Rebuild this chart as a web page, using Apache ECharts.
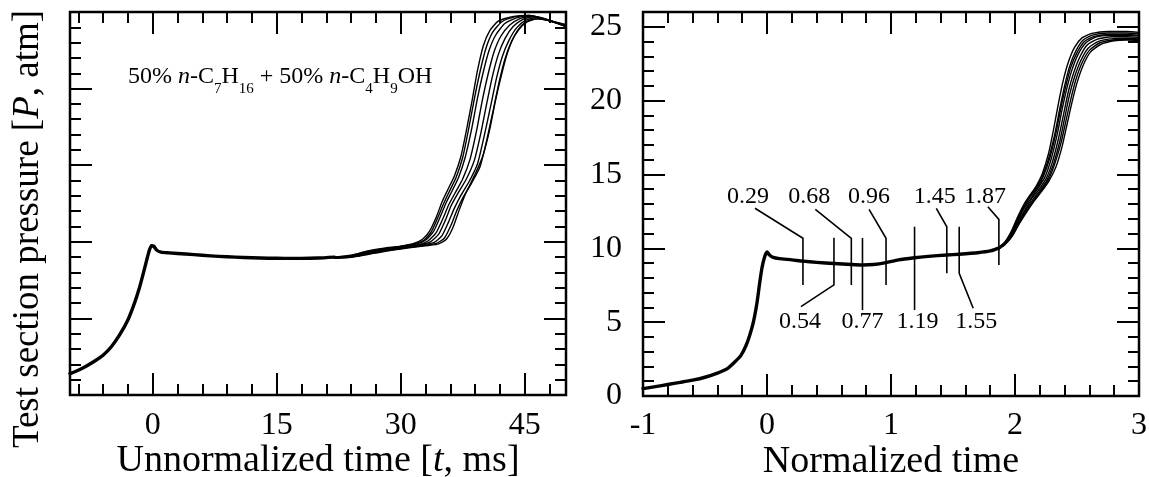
<!DOCTYPE html>
<html>
<head>
<meta charset="utf-8">
<script src="https://cdn.jsdelivr.net/npm/echarts@6/dist/echarts.min.js"></script>
<style>
  html, body { margin: 0; padding: 0; background: #fff; }
  #chart { width: 1149px; height: 477px; }
</style>
</head>
<body>
<div id="chart"></div>
<script>
// ---------- data: unnormalized time (ms) vs. test section pressure (atm) ----------
// shared part of all runs up to 22 ms (drawn as one heavy bundle)
const timeBase = [
  [-10.0, 1.40], [-9.0, 1.62], [-8.0, 1.90], [-7.0, 2.22], [-6.0, 2.60], [-5.0, 3.15],
  [-4.0, 3.92], [-3.0, 4.90], [-2.2, 6.00], [-1.6, 7.00], [-1.1, 8.00], [-0.7, 8.85],
  [-0.4, 9.45], [-0.15, 9.75], [0.15, 9.70], [0.5, 9.45], [1.0, 9.33], [2.0, 9.28],
  [4.0, 9.20], [6.0, 9.12], [8.0, 9.05], [10.0, 9.00], [12.0, 8.96], [14.0, 8.93],
  [16.0, 8.92], [18.0, 8.92], [20.0, 8.94], [22.0, 9.00]
];
// individual runs after 22 ms
const timeRunA = [[22,9.00],[24,9.12],[26,9.40],[28,9.58],[30,9.72],[31.5,9.88],[32.6,10.15],[33.5,10.70],[34.3,11.60],[35.0,12.60],[35.7,13.40],[36.5,14.30],[37.3,15.60],[38.0,17.40],[38.7,19.40],[39.3,21.20],[40.0,22.80],[40.8,23.80],[41.8,24.40],[43.5,24.70],[45.5,24.78],[47.5,24.55],[50.0,24.05]];
const timeRunB = [[22,9.00],[24,9.10],[26,9.37],[28,9.55],[30,9.70],[31.5,9.85],[32.8,10.10],[33.7,10.65],[34.5,11.60],[35.2,12.50],[35.9,13.30],[36.7,14.20],[37.5,15.50],[38.2,17.30],[38.9,19.30],[39.6,21.10],[40.3,22.60],[41.1,23.65],[42.2,24.35],[43.8,24.68],[45.5,24.78],[47.5,24.55],[50.0,24.05]];
const timeRunC = [[22,8.98],[24,9.08],[26,9.33],[28,9.52],[30,9.68],[31.8,9.84],[33.0,10.10],[34.0,10.70],[34.8,11.65],[35.5,12.55],[36.2,13.30],[37.0,14.20],[37.8,15.50],[38.6,17.40],[39.3,19.40],[40.0,21.10],[40.7,22.50],[41.5,23.50],[42.6,24.25],[44.0,24.62],[45.6,24.75],[47.5,24.52],[50.0,24.05]];
const timeRunD = [[22,8.97],[24,9.06],[26,9.30],[28,9.50],[30,9.66],[32,9.80],[33.3,10.05],[34.3,10.60],[35.1,11.50],[35.8,12.40],[36.6,13.20],[37.5,14.10],[38.4,15.40],[39.2,17.30],[39.9,19.30],[40.6,21.00],[41.3,22.40],[42.1,23.40],[43.2,24.15],[44.5,24.58],[45.8,24.72],[47.5,24.50],[50.0,24.08]];
const timeRunE = [[22,8.96],[24,9.04],[26,9.27],[28,9.47],[30,9.63],[32,9.77],[33.6,10.00],[34.6,10.50],[35.4,11.40],[36.1,12.35],[36.9,13.15],[37.9,14.05],[38.9,15.30],[39.7,17.10],[40.4,19.00],[41.1,20.80],[41.8,22.20],[42.6,23.25],[43.6,24.05],[44.8,24.52],[46.0,24.68],[47.8,24.48],[50.0,24.10]];
const timeRunF = [[22,8.95],[24,9.02],[26,9.24],[28,9.44],[30,9.60],[32,9.74],[34.0,9.95],[35.0,10.40],[35.8,11.30],[36.5,12.20],[37.3,13.05],[38.3,13.95],[39.3,15.10],[40.1,16.90],[40.9,18.90],[41.6,20.70],[42.3,22.10],[43.1,23.15],[44.0,23.95],[45.1,24.45],[46.3,24.62],[48.0,24.45],[50.0,24.12]];
const timeRunG = [[22,8.94],[24,9.00],[26,9.20],[28,9.40],[30,9.56],[32,9.70],[34.3,9.90],[35.3,10.25],[36.1,11.10],[36.8,12.05],[37.6,12.95],[38.6,13.85],[39.6,14.90],[40.4,16.60],[41.2,18.60],[41.9,20.40],[42.6,21.90],[43.4,23.05],[44.3,23.85],[45.3,24.35],[46.5,24.55],[48.0,24.42],[50.0,24.15]];
const timeRunH = [[22,8.93],[24,8.98],[26,9.17],[28,9.37],[30,9.53],[32,9.68],[34.5,9.85],[35.5,10.15],[36.3,10.90],[37.1,12.10],[37.9,13.20],[39.0,14.40],[40.0,15.70],[40.8,17.40],[41.5,19.30],[42.2,20.90],[42.9,22.30],[43.7,23.40],[44.6,24.10],[45.5,24.45],[46.8,24.55],[48.2,24.40],[50.0,24.18]];

// ---------- data: normalized time vs. pressure ----------
const normBase = [
  [-1.00, 0.50], [-0.90, 0.63], [-0.80, 0.78], [-0.70, 0.92], [-0.60, 1.07], [-0.50, 1.27],
  [-0.40, 1.55], [-0.32, 1.85], [-0.26, 2.30], [-0.21, 2.75], [-0.17, 3.40], [-0.14, 4.10],
  [-0.11, 5.00], [-0.08, 6.35], [-0.06, 7.60], [-0.04, 8.70], [-0.02, 9.40], [0.00, 9.75],
  [0.02, 9.55], [0.05, 9.38], [0.10, 9.30], [0.20, 9.22], [0.29, 9.13], [0.40, 9.05],
  [0.54, 8.97], [0.68, 8.90], [0.77, 8.87], [0.86, 8.90], [0.96, 9.03], [1.06, 9.22],
  [1.19, 9.36], [1.30, 9.45], [1.45, 9.55], [1.55, 9.60], [1.70, 9.70], [1.80, 9.82], [1.87, 10.02]
];
const normRunA = [[1.87,10.08],[1.92,10.45],[1.97,11.15],[2.02,12.10],[2.07,12.95],[2.12,13.60],[2.17,14.20],[2.22,15.05],[2.27,16.40],[2.31,18.00],[2.35,19.80],[2.39,21.40],[2.43,22.60],[2.48,23.60],[2.54,24.25],[2.62,24.55],[2.75,24.68],[2.90,24.68],[3.00,24.62]];
const normRunB = [[1.87,10.05],[1.92,10.40],[1.97,11.05],[2.02,11.95],[2.07,12.80],[2.12,13.50],[2.17,14.10],[2.22,14.85],[2.27,16.05],[2.32,17.70],[2.36,19.40],[2.40,21.00],[2.44,22.30],[2.49,23.35],[2.55,24.10],[2.63,24.45],[2.75,24.58],[2.90,24.58],[3.00,24.52]];
const normRunC = [[1.87,10.03],[1.92,10.38],[1.97,11.00],[2.02,11.90],[2.07,12.75],[2.12,13.45],[2.18,14.10],[2.23,14.90],[2.28,16.10],[2.33,17.80],[2.37,19.50],[2.41,21.00],[2.45,22.25],[2.50,23.25],[2.56,24.00],[2.64,24.35],[2.76,24.48],[2.90,24.48],[3.00,24.42]];
const normRunD = [[1.87,10.02],[1.92,10.35],[1.97,10.95],[2.02,11.80],[2.07,12.65],[2.13,13.40],[2.18,14.00],[2.24,14.80],[2.29,16.00],[2.34,17.70],[2.38,19.40],[2.42,20.90],[2.46,22.10],[2.51,23.15],[2.57,23.90],[2.65,24.30],[2.77,24.42],[2.90,24.42],[3.00,24.38]];
const normRunE = [[1.87,10.00],[1.92,10.32],[1.97,10.90],[2.02,11.70],[2.08,12.60],[2.13,13.30],[2.19,13.95],[2.25,14.70],[2.30,15.80],[2.35,17.40],[2.39,19.00],[2.43,20.60],[2.47,21.80],[2.52,22.90],[2.58,23.75],[2.66,24.15],[2.78,24.32],[2.90,24.32],[3.00,24.28]];
const normRunF = [[1.87,9.98],[1.92,10.30],[1.97,10.85],[2.03,11.70],[2.08,12.50],[2.14,13.25],[2.20,13.90],[2.26,14.65],[2.31,15.70],[2.36,17.20],[2.40,18.80],[2.44,20.40],[2.48,21.60],[2.53,22.70],[2.59,23.55],[2.67,24.00],[2.79,24.20],[2.90,24.22],[3.00,24.18]];
const normRunG = [[1.87,9.97],[1.92,10.28],[1.98,10.90],[2.03,11.65],[2.09,12.50],[2.15,13.25],[2.21,13.90],[2.27,14.65],[2.32,15.70],[2.37,17.10],[2.41,18.60],[2.45,20.10],[2.49,21.40],[2.54,22.55],[2.60,23.40],[2.68,23.90],[2.80,24.12],[2.90,24.15],[3.00,24.12]];
const normRunH = [[1.87,9.95],[1.92,10.25],[1.98,10.85],[2.03,11.60],[2.09,12.40],[2.15,13.15],[2.21,13.80],[2.27,14.50],[2.33,15.50],[2.38,16.90],[2.42,18.40],[2.46,19.90],[2.50,21.20],[2.55,22.40],[2.61,23.30],[2.69,23.80],[2.80,24.05],[2.90,24.10],[3.00,24.08]];

// sampling instants marked on the normalized trace
const markerTimes = [0.29, 0.54, 0.68, 0.77, 0.96, 1.19, 1.45, 1.55, 1.87];

// ---------- axis ticks and labels ----------
const timeTicksMajor = [0, 15, 30, 45];
const timeTicksMinor = [-9, -6, -3, 3, 6, 9, 12, 18, 21, 24, 27, 33, 36, 39, 42, 48];
const timeLabels = [0, 15, 30, 45];
const pressureTicksMajor = [5, 10, 15, 20];
const pressureTicksMinor = [1, 2, 3, 4, 6, 7, 8, 9, 11, 12, 13, 14, 16, 17, 18, 19, 21, 22, 23, 24];
const pressureLabels = [0, 5, 10, 15, 20, 25];
const normTicksMajor = [0, 1, 2];
const normTicksMinor = [-0.8, -0.6, -0.4, -0.2, 0.2, 0.4, 0.6, 0.8, 1.2, 1.4, 1.6, 1.8, 2.2, 2.4, 2.6, 2.8];
const normLabels = [-1, 0, 1, 2, 3];

// ---------- styling / layout ----------
const INK = '#000';
const FONT = '"Liberation Serif", "Times New Roman", Times, serif';
const MAJOR_LEN = 22, MINOR_LEN = 11;

// marker layout: segment ends & leader ends in pressure units, horizontal offsets in px
const LABEL_ROW_TOP = 13.5, LABEL_ROW_BOTTOM = 5.0;
const markerLayout = [
  { lo: 7.52, hi: 10.68, side: 'top',    leadDx: -48,  leadP: 12.71, labelDx: -55 },
  { lo: 7.52, hi: 10.72, side: 'bottom', leadDx: -33,  leadP: 6.05,  labelDx: -34 },
  { lo: 7.52, hi: 10.68, side: 'top',    leadDx: -36,  leadP: 12.64, labelDx: -42 },
  { lo: 5.82, hi: 10.70, side: 'bottom', leadDx: 0,    leadP: null,  labelDx: 0 },
  { lo: 7.52, hi: 10.68, side: 'top',    leadDx: -17,  leadP: 12.64, labelDx: -17 },
  { lo: 5.82, hi: 11.46, side: 'bottom', leadDx: 0,    leadP: null,  labelDx: 3 },
  { lo: 8.31, hi: 11.46, side: 'top',    leadDx: -10.5, leadP: 12.71, labelDx: -12 },
  { lo: 8.31, hi: 11.46, side: 'bottom', leadDx: 14,   leadP: 5.94,  labelDx: 17 },
  { lo: 8.87, hi: 11.96, side: 'top',    leadDx: -11,  leadP: 12.82, labelDx: -14 }
];

function makeAxis(o) {
  const ax = {
    type: 'value',
    gridIndex: o.grid,
    position: o.pos,
    min: o.min,
    max: o.max,
    axisLine: { show: false, onZero: false },
    axisTick: {
      show: true, inside: true, length: o.len, customValues: o.ticks,
      lineStyle: { color: INK, width: 2 }
    },
    axisLabel: o.labels ? {
      show: true, customValues: o.labels, margin: o.margin,
      color: INK, fontSize: 32, fontFamily: FONT
    } : { show: false },
    splitLine: { show: false },
    minorTick: { show: false },
    minorSplitLine: { show: false },
    silent: true
  };
  if (o.name) {
    ax.name = o.name;
    ax.nameLocation = 'middle';
    ax.nameGap = o.nameGap;
    ax.nameMoveOverlap = false;
    ax.nameTextStyle = {
      color: INK, fontSize: 38, fontFamily: FONT,
      rich: { i: { fontStyle: 'italic', fontSize: 38, fontFamily: FONT, color: INK } }
    };
  }
  return ax;
}

const xAxes = [
  // left panel
  makeAxis({ grid: 0, pos: 'bottom', min: -10, max: 50, ticks: timeTicksMajor, len: MAJOR_LEN, labels: timeLabels, margin: 15,
             name: 'Unnormalized time [{i|t}, ms]', nameGap: 47 }),
  makeAxis({ grid: 0, pos: 'bottom', min: -10, max: 50, ticks: timeTicksMinor, len: MINOR_LEN }),
  makeAxis({ grid: 0, pos: 'top', min: -10, max: 50, ticks: timeTicksMajor, len: MAJOR_LEN }),
  makeAxis({ grid: 0, pos: 'top', min: -10, max: 50, ticks: timeTicksMinor, len: MINOR_LEN }),
  // right panel
  makeAxis({ grid: 1, pos: 'bottom', min: -1, max: 3, ticks: normTicksMajor, len: MAJOR_LEN, labels: normLabels, margin: 14,
             name: 'Normalized time', nameGap: 47 }),
  makeAxis({ grid: 1, pos: 'bottom', min: -1, max: 3, ticks: normTicksMinor, len: MINOR_LEN }),
  makeAxis({ grid: 1, pos: 'top', min: -1, max: 3, ticks: normTicksMajor, len: MAJOR_LEN }),
  makeAxis({ grid: 1, pos: 'top', min: -1, max: 3, ticks: normTicksMinor, len: MINOR_LEN })
];

const yAxes = [
  // left panel (no numbers)
  makeAxis({ grid: 0, pos: 'left', min: 0, max: 25, ticks: pressureTicksMajor, len: MAJOR_LEN }),
  makeAxis({ grid: 0, pos: 'left', min: 0, max: 25, ticks: pressureTicksMinor, len: MINOR_LEN }),
  makeAxis({ grid: 0, pos: 'right', min: 0, max: 25, ticks: pressureTicksMajor, len: MAJOR_LEN }),
  makeAxis({ grid: 0, pos: 'right', min: 0, max: 25, ticks: pressureTicksMinor, len: MINOR_LEN }),
  // right panel
  makeAxis({ grid: 1, pos: 'left', min: 0, max: 26, ticks: pressureTicksMajor.concat([25]), len: MAJOR_LEN, labels: pressureLabels, margin: 21 }),
  makeAxis({ grid: 1, pos: 'left', min: 0, max: 26, ticks: pressureTicksMinor, len: MINOR_LEN }),
  makeAxis({ grid: 1, pos: 'right', min: 0, max: 26, ticks: pressureTicksMajor.concat([25]), len: MAJOR_LEN }),
  makeAxis({ grid: 1, pos: 'right', min: 0, max: 26, ticks: pressureTicksMinor, len: MINOR_LEN })
];

function trace(data, xi, yi, width) {
  return {
    type: 'line', data: data, xAxisIndex: xi, yAxisIndex: yi,
    showSymbol: false, symbol: 'none', smooth: 0.2,
    lineStyle: { color: INK, width: width, cap: 'round', join: 'round' }, itemStyle: { color: INK },
    silent: true, z: 3
  };
}

const timeRuns = [timeRunA, timeRunB, timeRunC, timeRunD, timeRunE, timeRunF, timeRunG, timeRunH];
const normRuns = [normRunA, normRunB, normRunC, normRunD, normRunE, normRunF, normRunG, normRunH];

const series = [];
series.push(trace(timeBase, 0, 0, 3.4));
timeRuns.forEach(r => series.push(trace(r, 0, 0, 1.4)));
series.push(trace(normBase, 4, 4, 3.4));
normRuns.forEach(r => series.push(trace(r, 4, 4, 1.4)));

const MARK_FONT = '24px ' + FONT;

// sampling markers: vertical tick through the trace, optional leader, value label
series.push({
  type: 'custom',
  xAxisIndex: 4, yAxisIndex: 4,
  data: markerTimes.map(t => [t, 0]),
  encode: { x: 0, y: 1 },
  clip: false, silent: true, z: 5,
  renderItem: function (params, api) {
    const t = api.value(0);
    const lay = markerLayout[params.dataIndex];
    const x = api.coord([t, 0])[0];
    const py = p => api.coord([t, p])[1];
    const pts = [];
    if (lay.side === 'top') {
      if (lay.leadP != null) pts.push([x + lay.leadDx, py(lay.leadP)]);
      pts.push([x, py(lay.hi)], [x, py(lay.lo)]);
    } else {
      pts.push([x, py(lay.hi)], [x, py(lay.lo)]);
      if (lay.leadP != null) pts.push([x + lay.leadDx, py(lay.leadP)]);
    }
    const labelY = py(lay.side === 'top' ? LABEL_ROW_TOP : LABEL_ROW_BOTTOM);
    return {
      type: 'group',
      children: [
        { type: 'polyline', shape: { points: pts }, style: { stroke: INK, lineWidth: 1.6, fill: 'none' } },
        { type: 'text', x: x + lay.labelDx, y: labelY,
          style: { text: t.toFixed(2), fill: INK, font: MARK_FONT, fontSize: 24, fontFamily: FONT,
                   align: 'center', verticalAlign: 'middle', textAlign: 'center', textVerticalAlign: 'middle' } }
      ]
    };
  }
});

const option = {
  backgroundColor: '#fff',
  animation: false,
  grid: [
    { left: 70, top: 12, width: 496, height: 383, show: true, borderColor: INK, borderWidth: 2.5,
      backgroundColor: 'transparent', containLabel: false, outerBoundsMode: 'none' },
    { left: 643, top: 12, width: 496, height: 384, show: true, borderColor: INK, borderWidth: 2.5,
      backgroundColor: 'transparent', containLabel: false, outerBoundsMode: 'none' }
  ],
  xAxis: xAxes,
  yAxis: yAxes,
  series: series,
  graphic: [
    {
      type: 'text', x: 28, y: 229, rotation: Math.PI / 2, silent: true,
      style: {
        text: 'Test section pressure [{i|P}, atm]',
        fill: INK, fontSize: 37, fontFamily: FONT, align: 'center', verticalAlign: 'middle',
        rich: { i: { fontStyle: 'italic', fontSize: 37, fontFamily: FONT, fill: INK } }
      }
    },
    {
      type: 'text', x: 128, y: 65, silent: true,
      style: {
        text: '{n|50% }{i|n}{n|-C}{s|7}{n|H}{s|16}{n| + 50% }{i|n}{n|-C}{s|4}{n|H}{s|9}{n|OH}',
        fill: INK, align: 'left', verticalAlign: 'top', fontFamily: FONT, fontSize: 24,
        rich: {
          n: { fontSize: 24, lineHeight: 24, fontFamily: FONT, fill: INK, verticalAlign: 'top' },
          i: { fontSize: 24, lineHeight: 24, fontFamily: FONT, fill: INK, fontStyle: 'italic', verticalAlign: 'top' },
          s: { fontSize: 15, lineHeight: 15, fontFamily: FONT, fill: INK, verticalAlign: 'top', padding: [17, 0, 0, 0] }
        }
      }
    }
  ]
};

const chart = echarts.init(document.getElementById('chart'), null, { renderer: 'canvas' });
chart.setOption(option);
</script>
</body>
</html>
